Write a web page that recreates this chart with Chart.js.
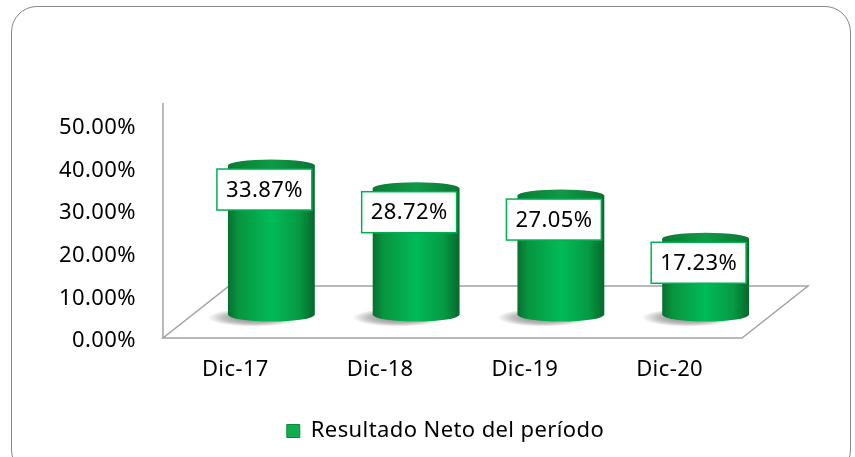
<!DOCTYPE html>
<html>
<head>
<meta charset="utf-8">
<script src="https://cdn.jsdelivr.net/npm/chart.js@4/dist/chart.umd.min.js"></script>
<style>
  html, body { margin: 0; padding: 0; background: #fff; overflow: hidden; }
  #wrap { position: relative; width: 855px; height: 457px; }
  #frame { position: absolute; left: 11px; top: 6px; width: 840px; height: 470px; border: 1.5px solid #868686; border-radius: 26px; box-sizing: border-box; }
  #chart { position: absolute; left: 0; top: 0; }
</style>
</head>
<body>
<div id="wrap">
  <div id="frame"></div>
  <canvas id="chart" width="855" height="457"></canvas>
</div>
<script>
const categories = ['Dic-17', 'Dic-18', 'Dic-19', 'Dic-20'];
const values = [33.87, 28.72, 27.05, 17.23];
const yTicks = [0, 10, 20, 30, 40, 50];
const seriesName = 'Resultado Neto del período';

const FONT = '"Noto Sans", "Open Sans", sans-serif';
const FSIZE = 22;
const DEPTH_X = 66, DEPTH_Y = 52;   // floor depth
const BAR_SHIFT = 36;               // bars stand mid-depth
const RY = 6;                       // ellipse height of cylinder caps

function setSpacing(chart) { chart.ctx.letterSpacing = '0.4px'; }

const cylinders = {
  id: 'cylinders',
  beforeUpdate: setSpacing,
  beforeDraw: setSpacing,
  beforeDatasetsDraw(chart) {
    const { ctx, chartArea: a } = chart;
    const fy = a.bottom - 3;
    ctx.save();
    ctx.strokeStyle = '#a3a3a3';
    ctx.lineWidth = 1.5;
    ctx.beginPath();
    ctx.moveTo(a.left, fy);
    ctx.lineTo(a.right, fy);
    ctx.lineTo(a.right + DEPTH_X, fy - DEPTH_Y);
    ctx.lineTo(a.left + DEPTH_X, fy - DEPTH_Y);
    ctx.closePath();
    ctx.stroke();
    ctx.beginPath();
    ctx.moveTo(a.left, a.top - 25);
    ctx.lineTo(a.left, fy);
    ctx.stroke();
    ctx.restore();
  },
  afterDatasetsDraw(chart) {
    const { ctx } = chart;
    const meta = chart.getDatasetMeta(0);
    ctx.save();
    meta.data.forEach((bar, i) => {
      const p = bar.getProps(['x', 'y', 'base', 'width'], true);
      const cx = p.x + BAR_SHIFT, rx = p.width / 2;
      const l = cx - rx, r = cx + rx, top = p.y, base = p.base;

      // shadow
      const sx = cx - 18, sy = base + 3;
      const sh = ctx.createRadialGradient(sx, sy, 2, sx, sy, rx * 1.05);
      sh.addColorStop(0, 'rgba(0,0,0,0.5)');
      sh.addColorStop(0.65, 'rgba(0,0,0,0.25)');
      sh.addColorStop(1, 'rgba(0,0,0,0)');
      ctx.save();
      ctx.translate(sx, sy);
      ctx.scale(1, 0.2);
      ctx.translate(-sx, -sy);
      ctx.fillStyle = sh;
      ctx.beginPath();
      ctx.arc(sx, sy, rx * 1.05, 0, Math.PI * 2);
      ctx.fill();
      ctx.restore();

      // body
      const g = ctx.createLinearGradient(l, 0, r, 0);
      g.addColorStop(0, '#06702f');
      g.addColorStop(0.12, '#08943f');
      g.addColorStop(0.5, '#00bb58');
      g.addColorStop(0.82, '#059a44');
      g.addColorStop(1, '#05682b');
      ctx.fillStyle = g;
      ctx.beginPath();
      ctx.moveTo(l, top);
      ctx.lineTo(l, base);
      ctx.ellipse(cx, base, rx, RY + 1, 0, Math.PI, 0, true);
      ctx.lineTo(r, top);
      ctx.closePath();
      ctx.fill();

      // top cap
      const tg = ctx.createLinearGradient(l, 0, r, 0);
      tg.addColorStop(0, '#0a7a35');
      tg.addColorStop(0.5, '#0f9a46');
      tg.addColorStop(1, '#0a7534');
      ctx.fillStyle = tg;
      ctx.beginPath();
      ctx.ellipse(cx, top, rx, RY, 0, 0, Math.PI * 2);
      ctx.fill();

      // data label
      const txt = values[i].toFixed(2) + '%';
      ctx.font = FSIZE + 'px ' + FONT;
      const tw = ctx.measureText(txt).width;
      const bw = tw + 18, bh = 41;
      const lx = cx - 7, ly = top + 24;
      ctx.fillStyle = '#ffffff';
      ctx.fillRect(lx - bw / 2, ly - bh / 2, bw, bh);
      ctx.strokeStyle = '#00b050';
      ctx.lineWidth = 1.5;
      ctx.strokeRect(lx - bw / 2, ly - bh / 2, bw, bh);
      ctx.fillStyle = '#000000';
      ctx.textAlign = 'center';
      ctx.textBaseline = 'middle';
      ctx.fillText(txt, lx, ly + 1);
    });
    ctx.restore();
  }
};

new Chart(document.getElementById('chart'), {
  type: 'bar',
  data: {
    labels: categories,
    datasets: [{
      label: seriesName,
      data: values,
      yAxisID: 'yBar',
      backgroundColor: 'rgba(0,0,0,0)',
      borderWidth: 0,
      barPercentage: 0.6,
      categoryPercentage: 1
    }]
  },
  options: {
    responsive: false,
    animation: false,
    devicePixelRatio: 1,
    layout: { padding: { top: 128, right: 0, bottom: 5, left: 36 } },
    scales: {
      x: {
        grid: { display: false },
        border: { display: false },
        ticks: { color: '#000', font: { family: FONT, size: FSIZE }, padding: 8 },
        afterFit(s) { s.height = 69; }
      },
      y: {
        min: 0, max: 50,
        afterBuildTicks(s) { s.ticks = yTicks.map(v => ({ value: v })); },
        grid: { display: false },
        border: { display: false },
        ticks: { color: '#000', font: { family: FONT, size: FSIZE }, padding: 19, callback: v => v.toFixed(2) + '%' },
        afterFit(s) { s.width = 127; }
      },
      yBar: {
        position: 'right',
        min: -6, max: 42.4,
        grid: { display: false },
        border: { display: false },
        ticks: { display: false },
        afterFit(s) { s.width = 113; }
      }
    },
    plugins: {
      tooltip: { enabled: false },
      legend: {
        position: 'bottom',
        labels: {
          color: '#000',
          font: { family: FONT, size: FSIZE },
          boxWidth: 13,
          boxHeight: 13,
          padding: 10,
          generateLabels: () => [{
            text: seriesName, fillStyle: '#10ad4f', strokeStyle: '#0a8a3c', lineWidth: 1, datasetIndex: 0
          }]
        }
      }
    }
  },
  plugins: [cylinders]
});
</script>
</body>
</html>
